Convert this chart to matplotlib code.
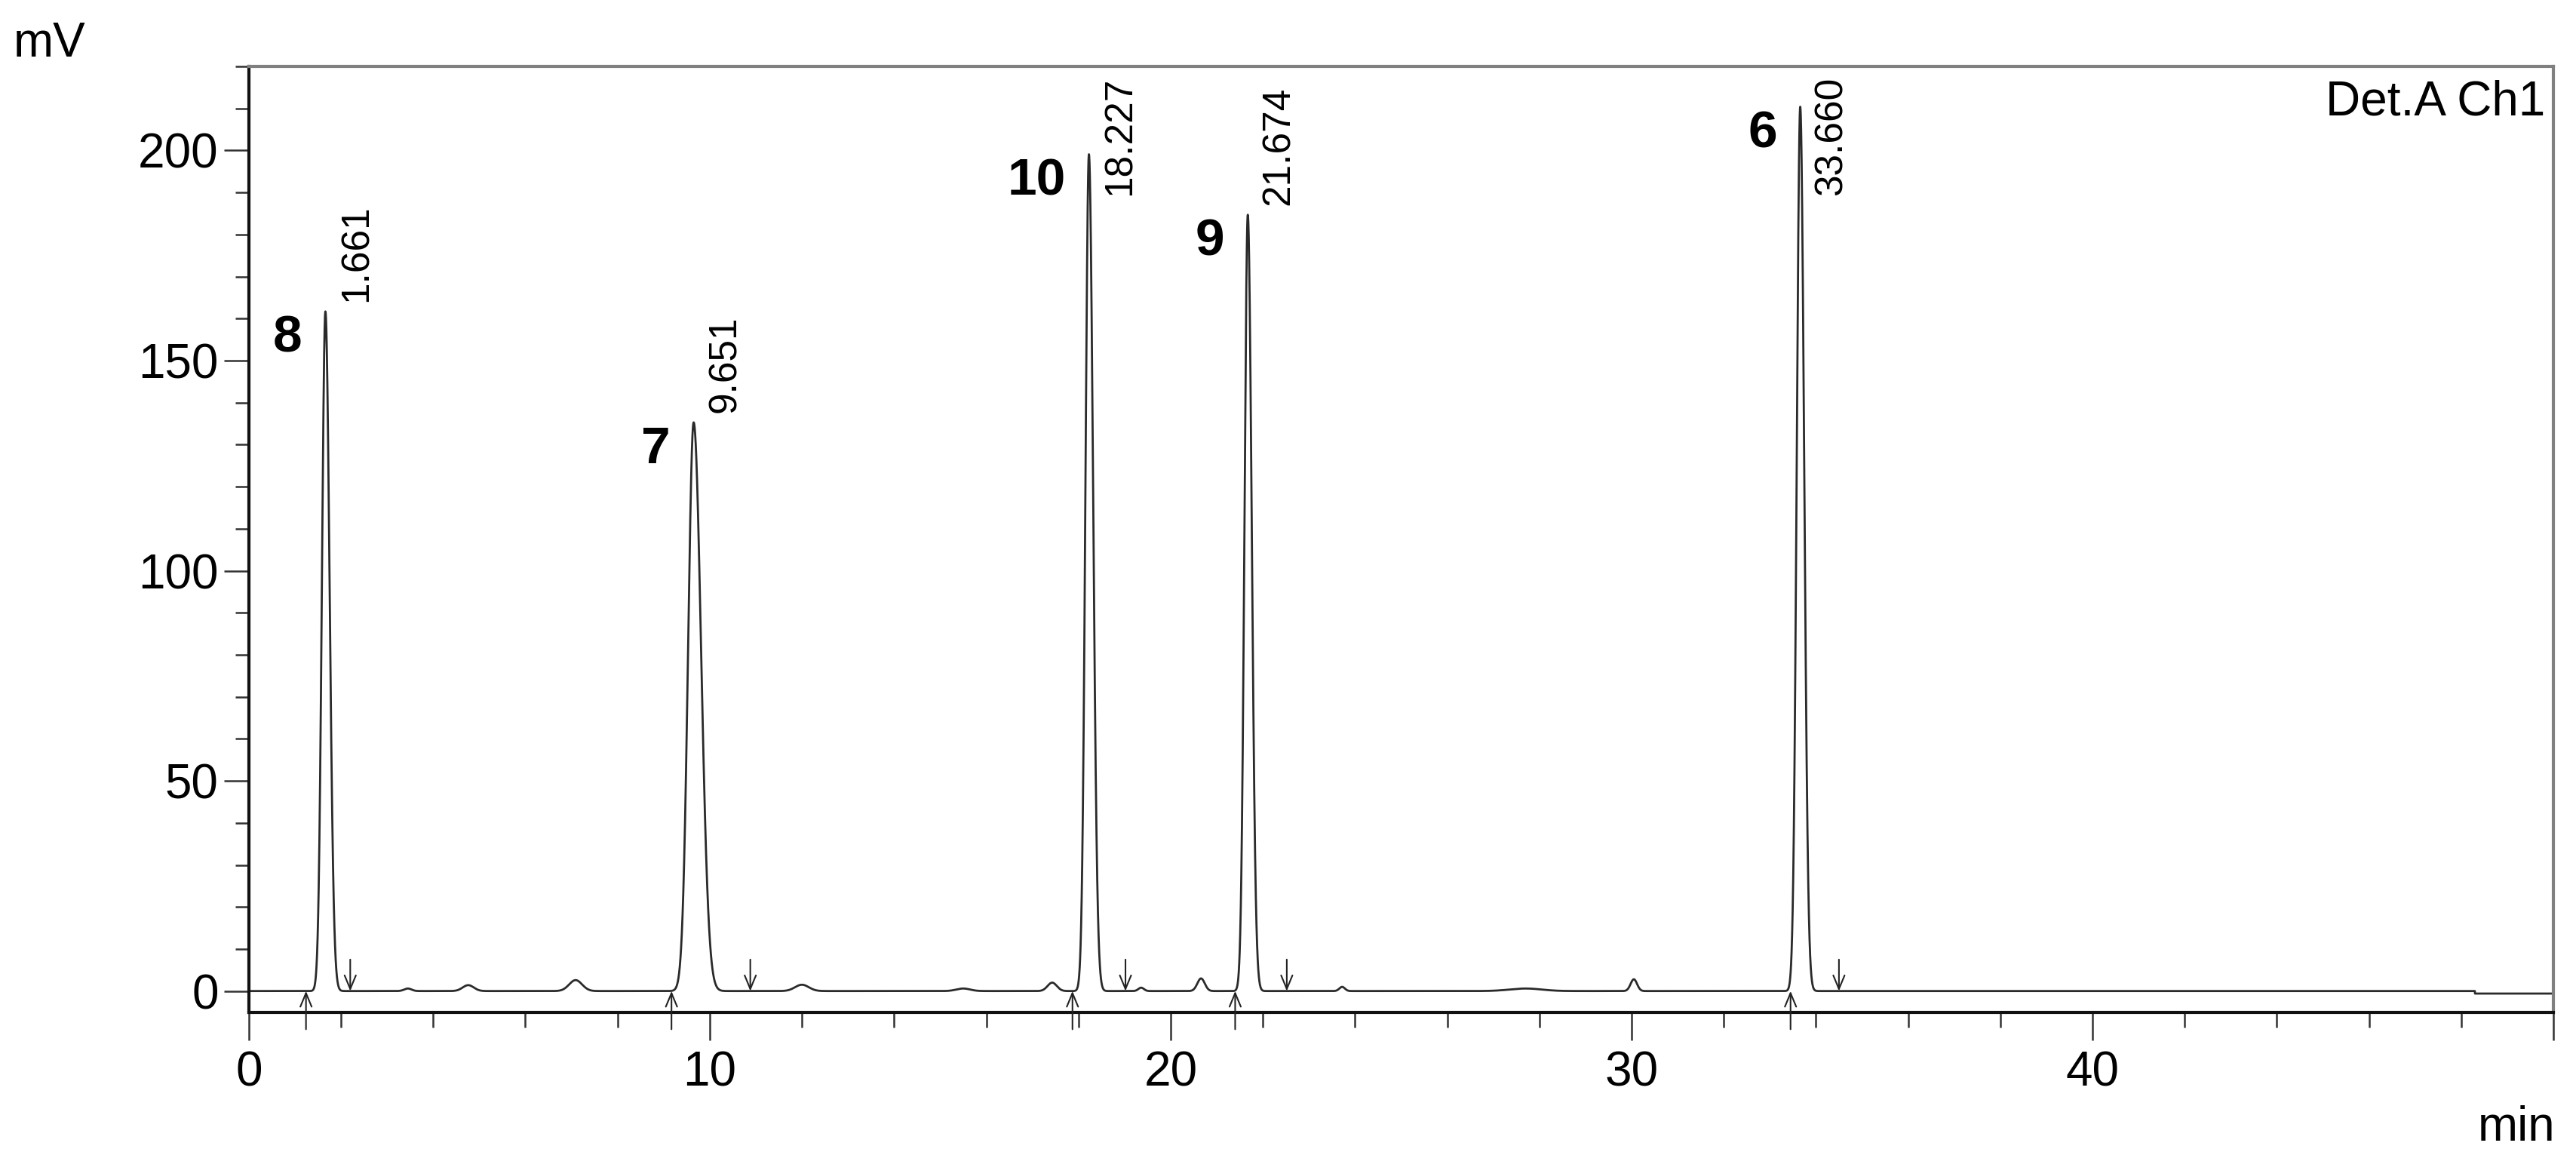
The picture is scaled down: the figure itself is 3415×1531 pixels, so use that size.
import numpy as np
import matplotlib
matplotlib.use("Agg")
import matplotlib.pyplot as plt
from matplotlib.ticker import MultipleLocator

plt.rcParams['font.family'] = ['Liberation Sans', 'DejaVu Sans']

# main peaks (retention time min, height mV, widths min)
peak_rt = [1.661, 9.651, 18.227, 21.674, 33.660]
peak_height = [161.7, 135.3, 199.1, 184.7, 210.4]
peak_sigma_l = [0.075, 0.12, 0.075, 0.072, 0.075]
peak_sigma_r = [0.09, 0.16, 0.09, 0.085, 0.085]
peak_id = ['8', '7', '10', '9', '6']
rt_labels = ['1.661', '9.651', '18.227', '21.674', '33.660']

# small impurity bumps on the baseline
minor_rt = [3.45, 4.76, 7.09, 12.0, 15.5, 17.43, 19.36, 20.66, 23.72, 27.7, 30.05]
minor_h = [0.6, 1.4, 2.6, 1.5, 0.6, 2.0, 0.8, 3.0, 1.0, 0.6, 2.8]
minor_w = [0.08, 0.12, 0.14, 0.15, 0.15, 0.10, 0.06, 0.08, 0.06, 0.35, 0.07]

# integration marks
start_marks = [1.24, 9.17, 17.87, 21.40, 33.45]
end_marks = [2.20, 10.88, 19.02, 22.52, 34.50]

drift_start = 48.3
drift_level = -0.6

t = np.linspace(0, 50, 25001)
sig = np.where(t > drift_start, drift_level, 0.0)
for rt, h, sl, sr in zip(peak_rt, peak_height, peak_sigma_l, peak_sigma_r):
    s = np.where(t < rt, sl, sr)
    sig = sig + h * np.exp(-0.5 * ((t - rt) / s) ** 2)
for rt, h, w in zip(minor_rt, minor_h, minor_w):
    sig = sig + h * np.exp(-0.5 * ((t - rt) / w) ** 2)

fig = plt.figure(figsize=(34.15, 15.31), dpi=100)
ax = fig.add_axes([0.0966, 0.1234, 0.8946, 0.8191])

ax.plot(t, sig, color='#2a2a2a', lw=2.0)

ax.set_xlim(0, 50)
ax.set_ylim(-5.1, 220)

ax.set_xticks([0, 10, 20, 30, 40, 50])
ax.set_xticklabels(['0', '10', '20', '30', '40', ''])
ax.xaxis.set_minor_locator(MultipleLocator(2))
ax.set_yticks([0, 50, 100, 150, 200])
ax.yaxis.set_minor_locator(MultipleLocator(10))

ax.tick_params(axis='x', which='major', length=26.6, width=1.8, pad=10, labelsize=46, color='#333333')
ax.tick_params(axis='x', which='minor', length=14.4, width=1.8, color='#333333')
ax.tick_params(axis='y', which='major', length=24, width=1.8, pad=5, labelsize=46, color='#333333')
ax.tick_params(axis='y', which='minor', length=13, width=1.8, color='#333333')

for side in ['left', 'bottom']:
    ax.spines[side].set_color('#111111')
    ax.spines[side].set_linewidth(3)
for side in ['top', 'right']:
    ax.spines[side].set_color('#808080')
    ax.spines[side].set_linewidth(3)

# integration arrows
for x in start_marks:
    ax.annotate('', xy=(x, 0), xytext=(x, -9.1), annotation_clip=False,
                arrowprops=dict(arrowstyle='->,head_length=0.65,head_width=0.27',
                                lw=1.5, color='#222222', mutation_scale=20,
                                shrinkA=0, shrinkB=0))
for x in end_marks:
    ax.annotate('', xy=(x, 0), xytext=(x, 7.5),
                arrowprops=dict(arrowstyle='->,head_length=0.65,head_width=0.27',
                                lw=1.5, color='#222222', mutation_scale=20,
                                shrinkA=0, shrinkB=0))

# peak labels
for rt, h, pid, lab in zip(peak_rt, peak_height, peak_id, rt_labels):
    ax.annotate(pid, xy=(rt, h), xytext=(-22, -26), textcoords='offset points',
                ha='right', va='center', fontsize=50, fontweight='bold')
    ax.annotate(lab, xy=(rt, min(h, 187)), xytext=(30, 9.4), textcoords='offset points',
                ha='center', va='bottom', rotation=90, fontsize=37, annotation_clip=False)

ax.text(0.9964, 0.986, 'Det.A Ch1', transform=ax.transAxes, ha='right', va='top', fontsize=46)
fig.text(0.0053, 0.951, 'mV', ha='left', va='baseline', fontsize=46)
fig.text(0.9918, 0.0124, 'min', ha='right', va='baseline', fontsize=46)

fig.savefig('out.png', dpi=100)
